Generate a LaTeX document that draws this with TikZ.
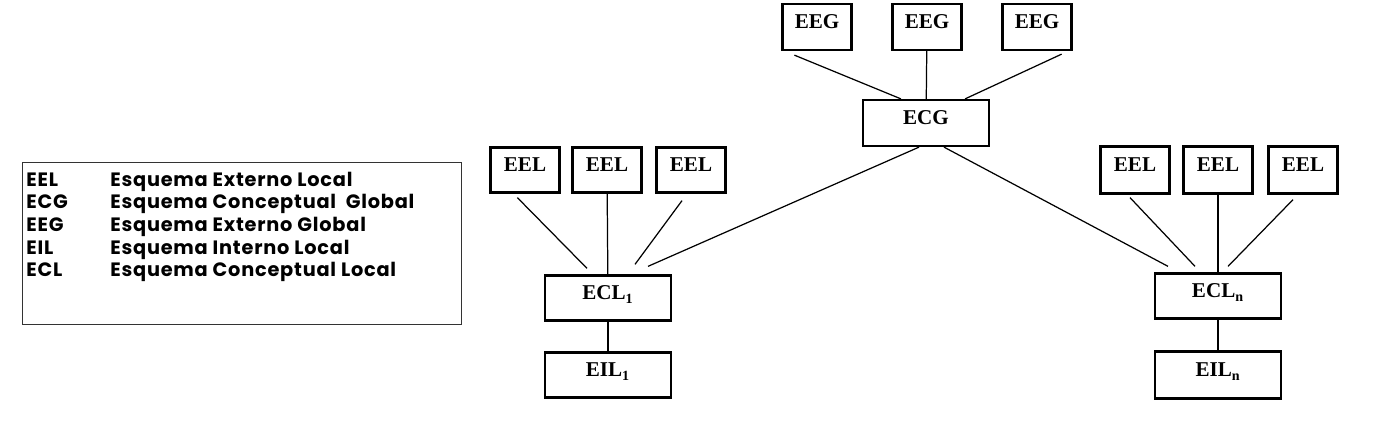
\documentclass[tikz,border=0pt]{standalone}
\usepackage{fontspec}
\setmainfont{Liberation Serif}
\newfontfamily\legendfont[LetterSpace=4]{Poppins}
\usetikzlibrary{positioning}

\begin{document}
\begin{tikzpicture}[
  x=0.02cm, y=-0.02cm,
  every node/.style={font=\fontsize{12pt}{14pt}\selectfont\bfseries},
  schemabox/.style={rectangle, draw, line width=1.3pt, inner sep=0pt,
    minimum height=0.92cm, minimum width=1.38cm, text depth=0.2cm},
  widebox/.style={schemabox, minimum width=2.52cm},
  link/.style={line width=0.7pt},
]
\useasboundingbox (0,0) rectangle (1388,428);

% Legend
\node[draw=black!80, line width=0.8pt, anchor=north west, inner sep=0pt,
  minimum width=8.78cm, minimum height=3.24cm] (legend) at (22,162) {};
\node[anchor=north west, inner sep=0pt, font=\legendfont\fontsize{11pt}{12.9pt}\selectfont\bfseries]
  (legendtext) at ([xshift=0.08cm,yshift=-0.16cm]legend.north west) {%
  \begin{tabular}{@{}p{1.68cm}@{}l@{}}
  EEL & Esquema Externo Local\\
  ECG & Esquema Conceptual\ \ Global\\
  EEG & Esquema Externo Global\\
  EIL & Esquema Interno Local\\
  ECL & Esquema Conceptual Local
  \end{tabular}};

% Global level
\node[schemabox] (eeg1) at (817,27) {EEG};
\node[schemabox] (eeg2) at (927,27) {EEG};
\node[schemabox] (eeg3) at (1037,27) {EEG};
\node[widebox] (ecg) at (926,123) {ECG};

% Local site 1
\node[schemabox, minimum height=0.9cm] (eela1) at (525,170) {EEL};
\node[schemabox, minimum height=0.9cm] (eela2) at (607,170) {EEL};
\node[schemabox, minimum height=0.9cm] (eela3) at (691,170) {EEL};
\node[widebox, minimum height=0.9cm] (ecla) at (608,298) {ECL\textsubscript{1}};
\node[widebox, minimum height=0.9cm] (eila) at (608,375) {EIL\textsubscript{1}};

% Local site n
\node[schemabox, minimum height=0.94cm] (eelb1) at (1135,170) {EEL};
\node[schemabox, minimum height=0.94cm] (eelb2) at (1218,170) {EEL};
\node[schemabox, minimum height=0.94cm] (eelb3) at (1303,170) {EEL};
\node[widebox, minimum height=0.9cm] (eclb) at (1218,296) {ECL\textsubscript{n}};
\node[widebox, minimum height=0.94cm] (eilb) at (1218,375) {EIL\textsubscript{n}};

% Connectors
\draw[link] ([xshift=0.26cm,yshift=-0.08cm]eeg1.south west) -- ([xshift=0.78cm]ecg.north west);
\draw[link] (eeg2) -- (ecg);
\draw[link] ([xshift=-0.22cm,yshift=-0.06cm]eeg3.south east) -- ([xshift=-0.5cm]ecg.north east);

\draw[link] ([xshift=-0.14cm]ecg.south) -- ([xshift=0.8cm,yshift=0.16cm]ecla.north);
\draw[link] ([xshift=0.36cm]ecg.south) -- ([xshift=-1.0cm,yshift=0.12cm]eclb.north);

\draw[link] ([xshift=0.56cm,yshift=-0.08cm]eela1.south west) -- ([xshift=-0.42cm,yshift=0.12cm]ecla.north);
\draw[link] (eela2) -- (ecla);
\draw[link] ([xshift=-0.18cm,yshift=-0.14cm]eela3.south) -- ([xshift=0.54cm,yshift=0.2cm]ecla.north);
\draw[link] (ecla) -- (eila);

\draw[link] ([xshift=-0.1cm,yshift=-0.06cm]eelb1.south) -- ([xshift=-0.46cm,yshift=0.12cm]eclb.north);
\draw[link] (eelb2) -- (eclb);
\draw[link] ([xshift=-0.2cm,yshift=-0.1cm]eelb3.south) -- ([xshift=0.2cm,yshift=0.12cm]eclb.north);
\draw[link] (eclb) -- (eilb);

\end{tikzpicture}
\end{document}
